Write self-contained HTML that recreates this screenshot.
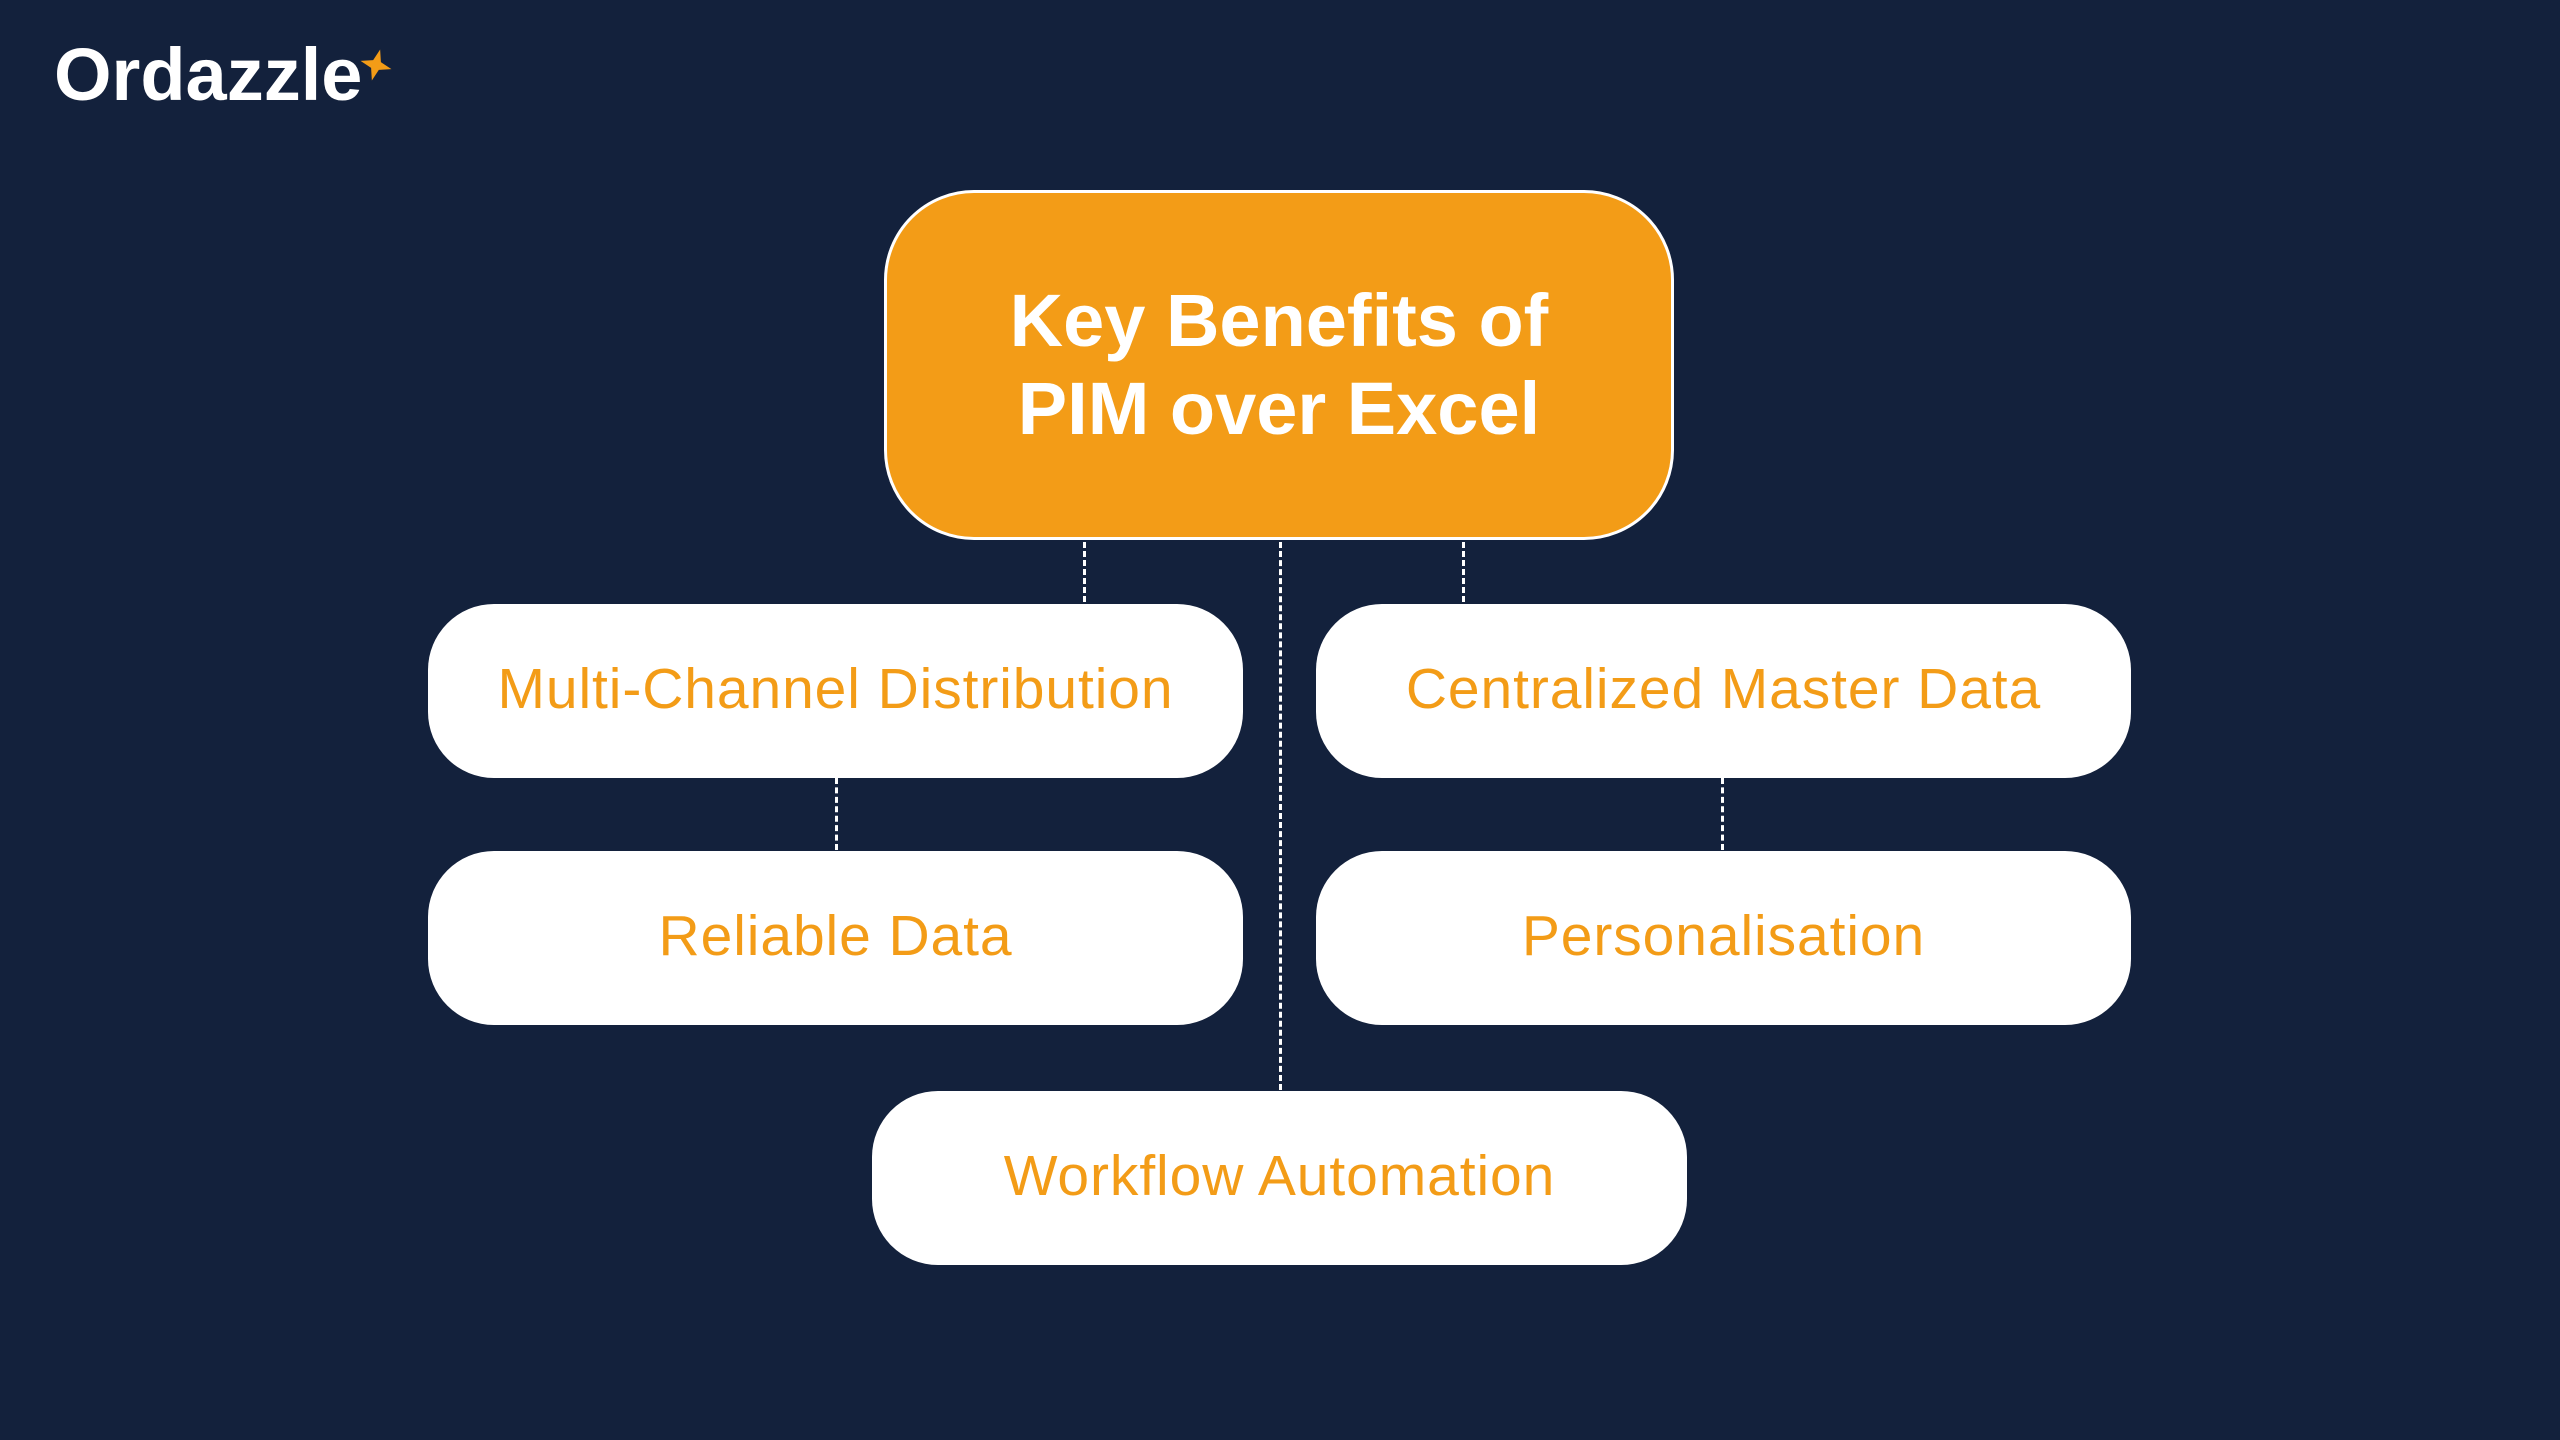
<!DOCTYPE html>
<html><head><meta charset="utf-8"><style>
body{margin:0;width:2560px;height:1440px;background:#13213c;position:relative;overflow:hidden;font-family:"Liberation Sans",sans-serif}
.b{position:absolute;background:#fff;border-radius:66px;color:#f39c17;font-size:57px;letter-spacing:0.9px;display:flex;align-items:center;justify-content:center;width:815px;height:174px;padding-bottom:4px;box-sizing:border-box}
.d{position:absolute;width:0;border-left:3px dashed #fff}
</style></head><body>
<div style="position:absolute;left:54px;top:32px;color:#fff;font-weight:bold;font-size:74px;letter-spacing:0px">Ordazzle</div>
<svg style="position:absolute;left:356px;top:45px" width="40" height="40" viewBox="-20 -20 40 40"><polygon points="0,-16 4,-4 16,0 4,4 0,16 -4,4 -16,0 -4,-4" fill="#f39c17" transform="rotate(15)"/></svg>
<div class="d" style="left:1083px;top:542px;height:60px"></div>
<div class="d" style="left:1279px;top:542px;height:548px"></div>
<div class="d" style="left:1462px;top:542px;height:60px"></div>
<div class="d" style="left:835px;top:778px;height:72px"></div>
<div class="d" style="left:1721px;top:778px;height:72px"></div>
<div style="position:absolute;left:884px;top:190px;width:784px;height:344px;background:#f39c17;border:3px solid #fff;border-radius:90px;color:#fff;font-weight:bold;font-size:74px;line-height:88px;text-align:center;display:flex;align-items:center;justify-content:center">Key Benefits of<br>PIM over Excel</div>
<div class="b" style="left:428px;top:604px">Multi-Channel Distribution</div>
<div class="b" style="left:1316px;top:604px">Centralized Master Data</div>
<div class="b" style="left:428px;top:851px">Reliable Data</div>
<div class="b" style="left:1316px;top:851px">Personalisation</div>
<div class="b" style="left:872px;top:1091px">Workflow Automation</div>
</body></html>
